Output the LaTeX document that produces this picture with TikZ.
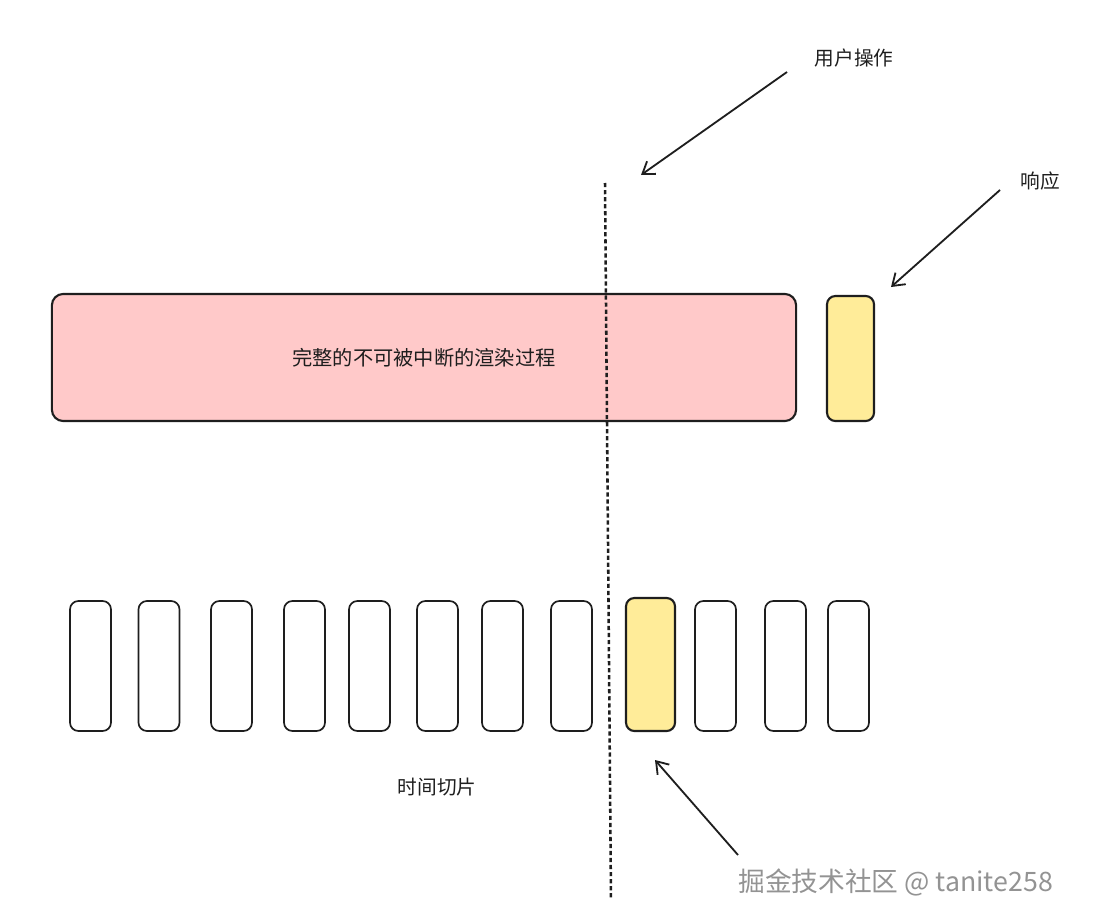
\documentclass[tikz,border=0pt]{standalone}
\usepackage{fontspec}
\newfontfamily\cjk{Noto Sans CJK SC}
\usetikzlibrary{arrows.meta}
\definecolor{ink}{HTML}{1E1E1E}
\definecolor{pinkfill}{HTML}{FFC9C9}
\definecolor{yellowfill}{HTML}{FFEC99}
\begin{document}
\begin{tikzpicture}[
  x=0.025cm, y=-0.025cm,
  label/.style={font=\cjk\fontsize{14}{16}\selectfont, text=ink},
  fullbox/.style={draw=ink, line width=1.5pt, rounded corners=8pt, fill=pinkfill, minimum width=18.6cm, minimum height=3.175cm, font=\cjk\fontsize{14.4}{16}\selectfont, text=ink},
  answer/.style={draw=ink, line width=1.5pt, rounded corners=6pt, fill=yellowfill, minimum width=1.175cm, minimum height=3.125cm},
  slice/.style={draw=ink, line width=1.2pt, rounded corners=6pt, fill=white, minimum width=1.025cm, minimum height=3.25cm},
  hotslice/.style={slice, fill=yellowfill, line width=1.5pt, minimum width=1.225cm, minimum height=3.325cm},
  arrow/.style={-{Straight Barb[length=8pt,width=11pt,line width=1.3pt]}, line width=1.3pt, draw=ink},
  cut/.style={draw=ink, line width=1.8pt, dash pattern=on 3pt off 2pt}
]
\useasboundingbox (0,0) rectangle (1106,920);
\node[fullbox] (full) at (424,357.5) {完整的不可被中断的渲染过程};
\node[answer] (reply) at (850.5,358.5) {};
\node[slice] (s1) at (90.5,666) {};
\node[slice] (s2) at (159,666) {};
\node[slice] (s3) at (231.5,666) {};
\node[slice] (s4) at (304.5,666) {};
\node[slice] (s5) at (369.5,666) {};
\node[slice] (s6) at (437.5,666) {};
\node[slice] (s7) at (502.5,666) {};
\node[slice] (s8) at (571.5,666) {};
\node[hotslice] (s9) at (650.5,664.5) {};
\node[slice] (s10) at (715.5,666) {};
\node[slice] (s11) at (785.5,666) {};
\node[slice] (s12) at (848.5,666) {};
\node[label] (op) at (854,58) {用户操作};
\node[label] (resp) at (1040,181) {响应};
\node[label] (slices) at (437,787) {时间切片};
\node[font=\cjk\fontsize{19}{21}\selectfont, text=gray!85, anchor=west, inner sep=0pt] (mark) at (738,882) {掘金技术社区 @ tanite258};
\coordinate (cutTop) at (605,183);
\coordinate (cutBot) at (611,900);
\coordinate (opTail) at (787,72);
\coordinate (opHead) at (641,175);
\coordinate (respTail) at (1000,190);
\coordinate (respHead) at (891,287);
\coordinate (hotTail) at (738,855);
\coordinate (hotHead) at (655,760);
\draw[cut] (cutTop) -- (cutBot);
\draw[arrow] (opTail) -- (opHead);
\draw[arrow] (respTail) -- (respHead);
\draw[arrow] (hotTail) -- (hotHead);
\end{tikzpicture}
\end{document}
